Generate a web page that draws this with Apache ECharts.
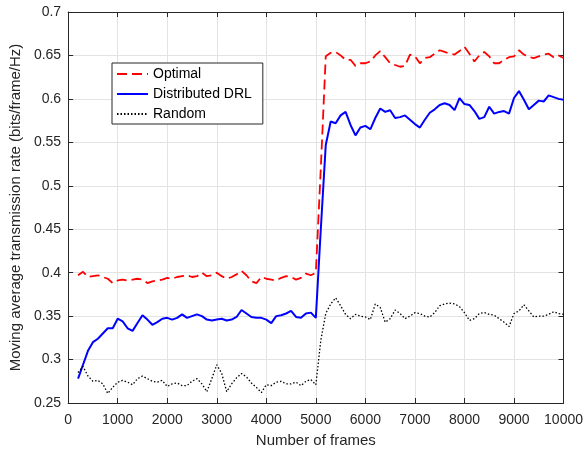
<!DOCTYPE html>
<html>
<head>
<meta charset="utf-8">
<script src="https://cdn.jsdelivr.net/npm/echarts@6/dist/echarts.min.js"></script>
<style>
  html, body { margin: 0; padding: 0; background: #ffffff; }
  #main { width: 586px; height: 453px; }
</style>
</head>
<body>
<div id="main"></div>
<script>
// frames 200 .. 10000, one sample per 100 frames
const frames = [];
for (let f = 200; f <= 10000; f += 100) frames.push(f);

const optimal = [
  0.397, 0.401, 0.395, 0.396, 0.397, 0.395, 0.393, 0.388, 0.391, 0.392,
  0.391, 0.392, 0.393, 0.392, 0.388, 0.390, 0.391, 0.392, 0.394, 0.393,
  0.395, 0.396, 0.397, 0.395, 0.396, 0.400, 0.396, 0.397, 0.400, 0.396,
  0.393, 0.395, 0.398, 0.402, 0.397, 0.390, 0.388, 0.395, 0.393, 0.392,
  0.391, 0.394, 0.396, 0.395, 0.392, 0.394, 0.399, 0.397, 0.400, 0.520,
  0.649, 0.653, 0.654, 0.650, 0.645, 0.645, 0.638, 0.641, 0.641, 0.643,
  0.650, 0.655, 0.648, 0.641, 0.639, 0.637, 0.638, 0.651, 0.649, 0.641,
  0.647, 0.648, 0.652, 0.656, 0.654, 0.652, 0.651, 0.655, 0.660, 0.652,
  0.643, 0.650, 0.654, 0.649, 0.641, 0.641, 0.645, 0.648, 0.649, 0.656,
  0.651, 0.648, 0.647, 0.649, 0.651, 0.652, 0.648, 0.650, 0.647
];

const distributedDRL = [
  0.278, 0.294, 0.310, 0.320, 0.324, 0.330, 0.336, 0.336, 0.347, 0.344,
  0.336, 0.333, 0.342, 0.351, 0.346, 0.340, 0.343, 0.347, 0.348, 0.346,
  0.348, 0.352, 0.348, 0.350, 0.352, 0.350, 0.346, 0.345, 0.346, 0.347,
  0.345, 0.346, 0.349, 0.357, 0.353, 0.349, 0.348, 0.348, 0.346, 0.342,
  0.350, 0.351, 0.353, 0.356, 0.349, 0.348, 0.353, 0.354, 0.348, 0.450,
  0.547, 0.574, 0.572, 0.581, 0.585, 0.570, 0.558, 0.567, 0.569, 0.565,
  0.578, 0.589, 0.585, 0.587, 0.578, 0.579, 0.581, 0.576, 0.571, 0.567,
  0.576, 0.584, 0.588, 0.593, 0.595, 0.593, 0.587, 0.601, 0.594, 0.593,
  0.586, 0.577, 0.579, 0.591, 0.583, 0.585, 0.586, 0.583, 0.601, 0.609,
  0.599, 0.588, 0.593, 0.598, 0.597, 0.604, 0.602, 0.600, 0.599
];

const random = [
  0.285, 0.292, 0.281, 0.275, 0.276, 0.272, 0.261, 0.268, 0.274, 0.276,
  0.274, 0.271, 0.278, 0.281, 0.278, 0.275, 0.274, 0.276, 0.269, 0.272,
  0.273, 0.270, 0.270, 0.275, 0.278, 0.272, 0.263, 0.278, 0.294, 0.284,
  0.263, 0.272, 0.279, 0.284, 0.280, 0.273, 0.268, 0.262, 0.271, 0.270,
  0.274, 0.275, 0.272, 0.272, 0.274, 0.270, 0.275, 0.277, 0.271, 0.322,
  0.353, 0.364, 0.371, 0.362, 0.352, 0.347, 0.352, 0.350, 0.349, 0.346,
  0.364, 0.360, 0.343, 0.347, 0.357, 0.353, 0.347, 0.350, 0.354, 0.353,
  0.350, 0.349, 0.354, 0.362, 0.364, 0.365, 0.364, 0.361, 0.354, 0.345,
  0.347, 0.353, 0.354, 0.352, 0.351, 0.347, 0.343, 0.338, 0.353, 0.356,
  0.363, 0.356, 0.349, 0.350, 0.350, 0.352, 0.355, 0.353, 0.352
];

const legendNames = ['Optimal', 'Distributed DRL', 'Random'];
const xTicks = { min: 0, max: 10000, interval: 1000 };
const yTicks = { min: 0.25, max: 0.7, interval: 0.05 };

const pairs = (vals) => frames.map((f, i) => [f, vals[i]]);

const FONT = '"Liberation Sans", Arial, Helvetica, sans-serif';
const INK = '#262626';

const frameAxis = (extra) => Object.assign({
  type: 'value',
  axisLine: { show: true, onZero: false, lineStyle: { color: INK, width: 1 } },
  axisTick: { show: true, inside: true, length: 5, lineStyle: { color: INK } },
  splitLine: { show: false },
  axisLabel: { show: false }
}, extra);

const chart = echarts.init(document.getElementById('main'));
chart.setOption({
  animation: false,
  backgroundColor: '#ffffff',
  textStyle: { fontFamily: FONT },
  grid: { left: 66, right: 22, top: 12, bottom: 49, containLabel: false },
  legend: {
    orient: 'vertical',
    left: 112,
    top: 63,
    itemWidth: 31,
    itemHeight: 10,
    itemGap: 6,
    padding: [4, 11, 3, 4],
    backgroundColor: '#ffffff',
    borderColor: INK,
    borderWidth: 1,
    // hide the marker dot, keep the line sample
    itemStyle: { opacity: 0 },
    textStyle: { fontFamily: FONT, fontSize: 14, color: '#000000' },
    data: legendNames
  },
  xAxis: [
    frameAxis({
      min: xTicks.min, max: xTicks.max, interval: xTicks.interval,
      position: 'bottom',
      name: 'Number of frames',
      nameLocation: 'middle',
      nameGap: 30,
      nameTextStyle: { fontFamily: FONT, fontSize: 15, color: INK },
      axisLabel: {
        show: true, fontFamily: FONT, fontSize: 14, color: INK, margin: 10,
        formatter: (v) => String(v)
      },
      splitLine: { show: true, lineStyle: { color: '#e3e3e3', width: 1 } }
    }),
    frameAxis({ min: xTicks.min, max: xTicks.max, interval: xTicks.interval, position: 'top' })
  ],
  yAxis: [
    frameAxis({
      min: yTicks.min, max: yTicks.max, interval: yTicks.interval,
      position: 'left',
      name: 'Moving average transmission rate (bits/frame/Hz)',
      nameLocation: 'middle',
      nameGap: 44,
      nameTextStyle: { fontFamily: FONT, fontSize: 15, color: INK },
      axisLabel: {
        show: true, fontFamily: FONT, fontSize: 14, color: INK, margin: 7,
        formatter: (v) => String(parseFloat(v.toFixed(2)))
      },
      splitLine: { show: true, lineStyle: { color: '#e3e3e3', width: 1 } }
    }),
    frameAxis({ min: yTicks.min, max: yTicks.max, interval: yTicks.interval, position: 'right' })
  ],
  series: [
    {
      name: 'Optimal',
      type: 'line',
      data: pairs(optimal),
      symbol: 'none',
      lineStyle: { color: '#ff0000', width: 1.8, type: [10, 5] },
      itemStyle: { color: '#ff0000' },
      z: 3
    },
    {
      name: 'Distributed DRL',
      type: 'line',
      data: pairs(distributedDRL),
      symbol: 'none',
      lineStyle: { color: '#0000ff', width: 2, type: 'solid' },
      itemStyle: { color: '#0000ff' },
      z: 3
    },
    {
      name: 'Random',
      type: 'line',
      data: pairs(random),
      symbol: 'none',
      lineStyle: { color: '#000000', width: 1.3, type: [1.5, 2] },
      itemStyle: { color: '#000000' },
      z: 3
    }
  ]
});
</script>
</body>
</html>
